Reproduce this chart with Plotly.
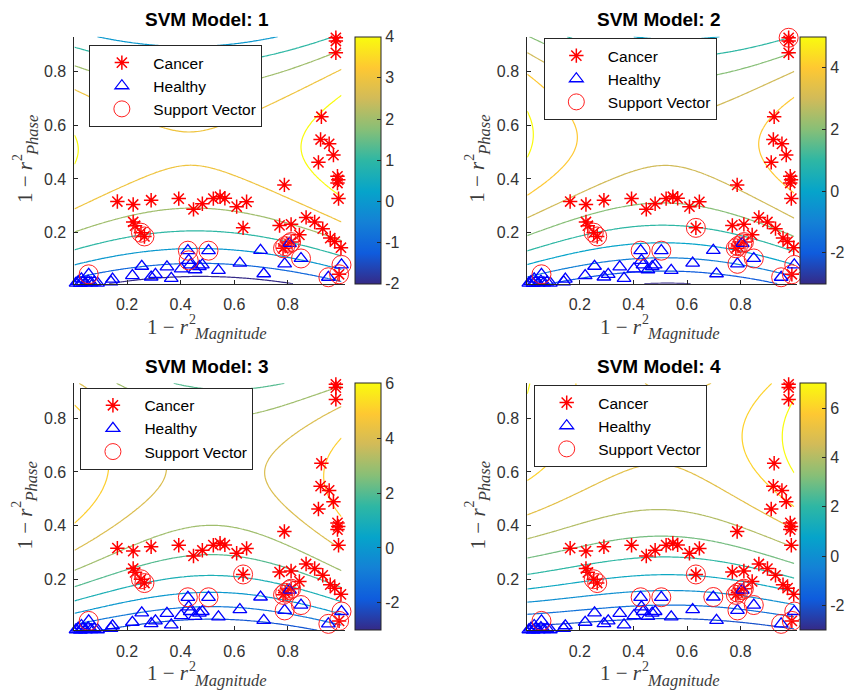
import numpy as np
import plotly.graph_objects as go

W, H = 850, 695

# ---------------- data points (shared by all four models) ----------------
cancer_x = [0.164, 0.223, 0.290, 0.393, 0.448, 0.481, 0.522, 0.547, 0.565, 0.609,
            0.646, 0.633, 0.787, 0.223, 0.230, 0.252, 0.265, 0.769, 0.812, 0.843,
            0.868, 0.900, 0.930, 0.958, 0.975, 0.998, 0.991, 0.790, 0.812, 0.979,
            0.979, 0.979, 0.925, 0.922, 0.954, 0.970, 0.914, 0.985, 0.988, 0.985,
            0.989, 0.782]
cancer_y = [0.316, 0.305, 0.321, 0.327, 0.287, 0.308, 0.327, 0.334, 0.328, 0.297,
            0.315, 0.218, 0.378, 0.240, 0.226, 0.200, 0.186, 0.227, 0.231, 0.192,
            0.257, 0.240, 0.215, 0.180, 0.167, 0.144, 0.045, 0.150, 0.165, 0.926,
            0.914, 0.870, 0.632, 0.547, 0.531, 0.489, 0.462, 0.410, 0.397, 0.385,
            0.327, 0.142]

healthy_x = [0.057, 0.010, 0.018, 0.026, 0.035, 0.045, 0.055, 0.066, 0.078, 0.090,
             0.030, 0.146, 0.140, 0.220, 0.255, 0.290, 0.306, 0.349, 0.365, 0.402,
             0.427, 0.430, 0.436, 0.454, 0.470, 0.481, 0.504, 0.541, 0.621, 0.698,
             0.710, 0.788, 0.806, 0.849, 0.951, 1.000]
healthy_y = [0.045, 0.012, 0.018, 0.011, 0.016, 0.012, 0.020, 0.013, 0.016, 0.012,
             0.028, 0.027, 0.017, 0.040, 0.075, 0.035, 0.045, 0.073, 0.030, 0.065,
             0.133, 0.097, 0.080, 0.062, 0.074, 0.080, 0.133, 0.060, 0.087, 0.134,
             0.047, 0.084, 0.160, 0.104, 0.034, 0.080]

# support vectors of each model (indices into the cancer / healthy lists)
sv_cancer = [
    [15, 16, 26, 27, 28, 41],
    [15, 16, 26, 27, 28, 41, 29, 11],
    [15, 16, 26, 27, 28, 41, 11],
    [15, 16, 26, 27, 28, 41, 11],
]
sv_healthy = [
    [0, 20, 21, 26, 32, 33, 34, 35],
    [0, 20, 26, 31, 32, 33, 34, 35],
    [0, 20, 26, 31, 32, 33, 34, 35],
    [0, 20, 26, 29, 31, 32, 33, 34, 35],
]

# ---------------- decision-score level samples of each model ----------------
# (x, y, score) points lying on the drawn iso-score curves
m1_x = [0.12, 0.30, 0.45, 0.65, 0.83,
        0.00, 0.20, 0.45, 0.70, 1.00,
        0.00, 0.20, 0.45, 0.70, 1.00,
        0.00, 0.20, 0.45, 0.70, 1.00,
        0.00, 0.22, 0.45, 0.71, 1.00,
        0.00, 0.22, 0.44, 0.71, 0.99,
        0.00, 0.20, 0.45, 0.70, 0.99,
        0.00, 0.98, 0.00, 0.98, 0.08, 0.45, 0.76,
        0.00, 0.03, 0.00, 0.99, 0.86, 0.99]
m1_y = [0.012, 0.028, 0.035, 0.027, 0.012,
        0.025, 0.065, 0.087, 0.070, 0.020,
        0.078, 0.122, 0.143, 0.125, 0.068,
        0.138, 0.185, 0.210, 0.190, 0.113,
        0.210, 0.262, 0.292, 0.243, 0.156,
        0.289, 0.386, 0.479, 0.367, 0.250,
        0.740, 0.640, 0.560, 0.650, 0.810,
        0.827, 0.870, 0.890, 0.935, 0.925, 0.905, 0.925,
        0.430, 0.505, 0.580, 0.700, 0.520, 0.340]
m1_s = [-2] * 5 + [-1] * 5 + [0] * 5 + [1] * 5 + [2] * 5 + [3] * 5 + [3] * 5 + \
       [2, 2, 1, 1, 0, 0, 0] + [4] * 6

m2_x = [0.42, 0.51, 0.60,
        0.12, 0.30, 0.51, 0.75, 0.92,
        0.00, 0.25, 0.51, 0.80, 1.00,
        0.00, 0.25, 0.51, 0.80, 1.00,
        0.00, 0.25, 0.51, 0.80, 1.00,
        0.00, 0.25, 0.51, 0.80, 1.00,
        0.00, 0.25, 0.51, 0.75, 0.99,
        0.45, 0.54, 0.62, 0.99, 0.00, 0.80,
        0.99, 0.033, 0.98, 0.17, 0.47, 0.57, 0.68,
        0.00, 0.10, 0.16, 0.20, 0.14, 0.00,
        0.99, 0.92, 0.873, 0.92, 0.99,
        0.00, 0.02, 0.00]
m2_y = [0.010, 0.012, 0.010,
        0.012, 0.045, 0.057, 0.040, 0.012,
        0.038, 0.085, 0.104, 0.080, 0.040,
        0.078, 0.140, 0.165, 0.135, 0.080,
        0.135, 0.200, 0.228, 0.190, 0.130,
        0.185, 0.270, 0.312, 0.260, 0.185,
        0.250, 0.370, 0.454, 0.380, 0.247,
        0.650, 0.640, 0.650, 0.800, 0.874, 0.720,
        0.860, 0.920, 0.930, 0.925, 0.925, 0.915, 0.925,
        0.336, 0.410, 0.470, 0.550, 0.650, 0.794,
        0.700, 0.630, 0.535, 0.440, 0.360,
        0.470, 0.565, 0.660]
m2_s = [-3] * 3 + [-2] * 5 + [-1] * 5 + [0] * 5 + [1] * 5 + [2] * 5 + [3] * 5 + \
       [3] * 6 + [2, 2, 1, 1, 0, 0, 0] + [4] * 6 + [4] * 5 + [5] * 3

m3_x = [0.38, 0.50, 0.62,
        0.15, 0.50, 0.85,
        0.00, 0.25, 0.50, 0.80, 1.00,
        0.00, 0.25, 0.50, 0.80, 1.00,
        0.00, 0.25, 0.50, 0.80, 1.00,
        0.00, 0.25, 0.50, 0.80, 1.00,
        0.00, 0.25, 0.50, 0.75, 0.985,
        0.007, 0.146, 0.281, 0.368, 0.38, 0.084, 0.04,
        0.99, 0.80, 0.689, 0.80, 0.985,
        0.007, 0.133, 0.146, 0.022, 0.007,
        0.99, 0.93, 0.948, 0.985,
        0.18, 0.245, 0.677, 0.83, 0.985,
        0.436, 0.56, 0.70]
m3_y = [0.010, 0.012, 0.010,
        0.015, 0.052, 0.015,
        0.034, 0.070, 0.089, 0.070, 0.030,
        0.071, 0.125, 0.151, 0.125, 0.070,
        0.120, 0.185, 0.218, 0.180, 0.120,
        0.173, 0.250, 0.292, 0.240, 0.170,
        0.231, 0.335, 0.397, 0.340, 0.234,
        0.305, 0.446, 0.545, 0.594, 0.630, 0.890, 0.920,
        0.822, 0.680, 0.594, 0.470, 0.323,
        0.400, 0.545, 0.607, 0.822, 0.847,
        0.730, 0.630, 0.520, 0.446,
        0.920, 0.890, 0.822, 0.870, 0.920,
        0.917, 0.905, 0.910]
m3_s = [-3] * 3 + [-2] * 3 + [-1] * 5 + [0] * 5 + [1] * 5 + [2] * 5 + [3] * 5 + \
       [4] * 7 + [4] * 5 + [5] * 5 + [5] * 4 + [3] * 5 + [2] * 3

m4_x = [0.40, 0.51, 0.62,
        0.00, 0.25, 0.51, 0.80, 0.99,
        0.00, 0.25, 0.51, 0.80, 0.99,
        0.00, 0.25, 0.51, 0.80, 0.99,
        0.00, 0.25, 0.51, 0.80, 0.99,
        0.00, 0.25, 0.51, 0.80, 0.99,
        0.00, 0.25, 0.51, 0.80, 0.99,
        0.00, 0.25, 0.51, 0.80, 0.99,
        0.00, 0.25, 0.51, 0.75, 0.99,
        0.45, 0.55, 0.65,
        0.00, 0.043, 0.16, 0.914, 0.85, 0.81, 0.84, 0.90, 0.99,
        0.025, 0.00, 0.975, 0.965, 0.99]
m4_y = [0.012, 0.014, 0.012,
        0.026, 0.038, 0.044, 0.036, 0.020,
        0.069, 0.085, 0.093, 0.080, 0.060,
        0.112, 0.140, 0.157, 0.135, 0.105,
        0.167, 0.200, 0.222, 0.195, 0.155,
        0.222, 0.262, 0.289, 0.255, 0.210,
        0.283, 0.330, 0.363, 0.320, 0.270,
        0.350, 0.410, 0.457, 0.400, 0.330,
        0.430, 0.540, 0.610, 0.550, 0.390,
        0.925, 0.910, 0.925,
        0.547, 0.632, 0.915, 0.930, 0.830, 0.730, 0.620, 0.530, 0.460,
        0.920, 0.870, 0.820, 0.710, 0.600]
m4_s = [-3] * 3 + [-2] * 5 + [-1] * 5 + [0] * 5 + [1] * 5 + [2] * 5 + [3] * 5 + \
       [4] * 5 + [5] * 5 + [5] * 3 + [6] * 9 + [7] * 5

samples = [(m1_x, m1_y, m1_s), (m2_x, m2_y, m2_s), (m3_x, m3_y, m3_s), (m4_x, m4_y, m4_s)]
poly_degree = [3, 4, 4, 4]

# contour levels and colour limits of each model
level_lo = [-2, -3, -3, -3]
level_hi = [4, 5, 6, 7]
cbar_ticks = [[-2, -1, 0, 1, 2, 3, 4], [-2, 0, 2, 4], [-2, 0, 2, 4, 6], [-2, 0, 2, 4, 6]]

titles = ["SVM Model: 1", "SVM Model: 2", "SVM Model: 3", "SVM Model: 4"]
tick_vals = [0.2, 0.4, 0.6, 0.8]

# parula-like colour map
parula = ["#352a87", "#0f5cdd", "#1481d6", "#06a4ca", "#2eb7a4",
          "#87bf77", "#d1bb59", "#fec832", "#f9fb0e"]
parula_scale = [[i / (len(parula) - 1), c] for i, c in enumerate(parula)]


def parula_at(t):
    t = min(max(t, 0.0), 1.0) * (len(parula) - 1)
    i = min(int(t), len(parula) - 2)
    f = t - i
    a = [int(parula[i][k:k + 2], 16) for k in (1, 3, 5)]
    b = [int(parula[i + 1][k:k + 2], 16) for k in (1, 3, 5)]
    return "rgb(%d,%d,%d)" % tuple(round(a[j] + (b[j] - a[j]) * f) for j in range(3))


def design(x, y, deg):
    cols = []
    for i in range(deg + 1):
        for j in range(deg + 1 - i):
            cols.append((x ** i) * (y ** j))
    return np.stack(cols, axis=-1)


X_LO, X_HI = 0.004, 1.0
Y_LO, Y_HI = 0.01, 0.93
gx = np.linspace(X_LO, X_HI, 140)
gy = np.linspace(Y_LO, Y_HI, 140)
GX, GY = np.meshgrid(gx, gy)

# ---------------- panel geometry (pixels) ----------------
panel_left = [75, 531, 75, 531]
panel_top = [36.7, 36.7, 383.3, 383.3]
panel_w, panel_h = 272, 247
cbar_left = [358, 806, 358, 806]
legend_left = [90, 547.7, 81, 538]
legend_top = [45, 38, 387.7, 385]

XR = [0.004, 0.004 + panel_w / 270.0]
YR = [0.01, 0.93]

LABEL_C = "#3c3c3c"
TICK_C = "#333333"
SERIF = "Liberation Serif, Times New Roman, serif"
SANS = "Liberation Sans, Arial, Helvetica, sans-serif"


def px(v):
    return v / W


def py(v):
    return 1 - v / H


fig = go.Figure()
annotations = []
layout = {}

for k in range(4):
    n = k + 1
    xa = "x" if n == 1 else "x%d" % n
    ya = "y" if n == 1 else "y%d" % n
    leg = "legend" if n == 1 else "legend%d" % n

    sx, sy, ss = samples[k]
    A = design(np.array(sx), np.array(sy), poly_degree[k])
    coef, *_ = np.linalg.lstsq(A, np.array(ss, dtype=float), rcond=None)
    Z = design(GX, GY, poly_degree[k]) @ coef

    lo, hi = level_lo[k], level_hi[k]
    for L in range(lo, hi + 1):
        fig.add_trace(go.Contour(
            x=gx, y=gy, z=Z, xaxis=xa, yaxis=ya,
            contours=dict(start=L, end=L, size=1, coloring="none", showlabels=False),
            line=dict(color=parula_at((L - lo) / (hi - lo)), width=1.2),
            showscale=False, showlegend=False, hoverinfo="skip",
        ))

    # continuous colour bar
    fig.add_trace(go.Scatter(
        x=[None], y=[None], xaxis=xa, yaxis=ya, mode="markers", showlegend=False,
        marker=dict(color=[lo], cmin=lo, cmax=hi, colorscale=parula_scale, showscale=True,
                    colorbar=dict(
                        x=px(cbar_left[k]), xanchor="left", xpad=0, ypad=0,
                        y=py(panel_top[k] + panel_h / 2), yanchor="middle",
                        thickness=26, thicknessmode="pixels",
                        len=panel_h, lenmode="pixels",
                        outlinewidth=1, outlinecolor="#262626",
                        tickmode="array", tickvals=cbar_ticks[k],
                        ticktext=[str(v) for v in cbar_ticks[k]],
                        ticks="inside", ticklen=4, tickcolor="#262626",
                        tickfont=dict(family=SANS, size=16, color=TICK_C),
                    )),
    ))

    fig.add_trace(go.Scatter(
        x=cancer_x, y=cancer_y, xaxis=xa, yaxis=ya, mode="markers", name="Cancer",
        legend=leg, cliponaxis=False,
        marker=dict(symbol="asterisk-open", size=12, color="#ff0000",
                    line=dict(color="#ff0000", width=1.5)),
    ))
    fig.add_trace(go.Scatter(
        x=healthy_x, y=healthy_y, xaxis=xa, yaxis=ya, mode="markers", name="Healthy",
        legend=leg, cliponaxis=False,
        marker=dict(symbol="triangle-up-open", size=12, color="#0000ff",
                    line=dict(color="#0000ff", width=1.3)),
    ))
    svx = [cancer_x[i] for i in sv_cancer[k]] + [healthy_x[i] for i in sv_healthy[k]]
    svy = [cancer_y[i] for i in sv_cancer[k]] + [healthy_y[i] for i in sv_healthy[k]]
    fig.add_trace(go.Scatter(
        x=svx, y=svy, xaxis=xa, yaxis=ya, mode="markers", name="Support Vector",
        legend=leg, cliponaxis=False,
        marker=dict(symbol="circle-open", size=19, color="#ff2020",
                    line=dict(color="#ff2020", width=1)),
    ))

    L0, T0 = panel_left[k], panel_top[k]
    axis_common = dict(showgrid=False, zeroline=False, showline=True, linecolor="#262626",
                       linewidth=1, ticks="inside", ticklen=4, tickcolor="#262626",
                       tickmode="array", tickvals=tick_vals,
                       ticktext=["%.1f" % v for v in tick_vals],
                       tickfont=dict(family=SANS, size=16, color=TICK_C))
    layout["xaxis" if n == 1 else "xaxis%d" % n] = dict(
        axis_common, domain=[px(L0), px(L0 + panel_w)], range=XR, anchor=ya,
        ticklabelstandoff=6)
    layout["yaxis" if n == 1 else "yaxis%d" % n] = dict(
        axis_common, domain=[py(T0 + panel_h), py(T0)], range=YR, anchor=xa,
        ticklabelstandoff=4)

    layout[leg] = dict(x=px(legend_left[k]), y=py(legend_top[k]),
                       xanchor="left", yanchor="top",
                       bgcolor="white", bordercolor="#262626", borderwidth=1,
                       font=dict(family=SANS, size=15.5, color="#000000"),
                       itemwidth=53, tracegroupgap=0)

    # title
    annotations.append(dict(text="<b>%s</b>" % titles[k], x=px(L0 + 133), y=py(T0 - 17),
                            xref="paper", yref="paper", showarrow=False,
                            xanchor="center", yanchor="middle",
                            font=dict(family=SANS, size=19, color="#000000")))
    # x label
    base = T0 + panel_h
    annotations += [
        dict(text="1 − <i>r</i>", x=px(L0 + 94), y=py(base + 43), xref="paper", yref="paper",
             showarrow=False, xanchor="center", yanchor="middle",
             font=dict(family=SERIF, size=21, color=LABEL_C)),
        dict(text="2", x=px(L0 + 119), y=py(base + 36), xref="paper", yref="paper",
             showarrow=False, xanchor="center", yanchor="middle",
             font=dict(family=SERIF, size=14, color=LABEL_C)),
        dict(text="<i>Magnitude</i>", x=px(L0 + 157), y=py(base + 50), xref="paper",
             yref="paper", showarrow=False, xanchor="center", yanchor="middle",
             font=dict(family=SERIF, size=16.5, color=LABEL_C)),
    ]
    # y label
    mid = T0 + panel_h / 2
    annotations += [
        dict(text="1 − <i>r</i>", x=px(L0 - 50), y=py(mid + 22), xref="paper", yref="paper",
             showarrow=False, xanchor="center", yanchor="middle", textangle=-90,
             font=dict(family=SERIF, size=21, color=LABEL_C)),
        dict(text="2", x=px(L0 - 58), y=py(mid - 3), xref="paper", yref="paper",
             showarrow=False, xanchor="center", yanchor="middle", textangle=-90,
             font=dict(family=SERIF, size=14, color=LABEL_C)),
        dict(text="<i>Phase</i>", x=px(L0 - 43), y=py(mid - 25), xref="paper",
             yref="paper", showarrow=False, xanchor="center", yanchor="middle",
             textangle=-90, font=dict(family=SERIF, size=16.5, color=LABEL_C)),
    ]

fig.update_layout(
    width=W, height=H, margin=dict(l=0, r=0, t=0, b=0),
    paper_bgcolor="white", plot_bgcolor="white",
    annotations=annotations, **layout,
)

fig.write_html("out.html")
